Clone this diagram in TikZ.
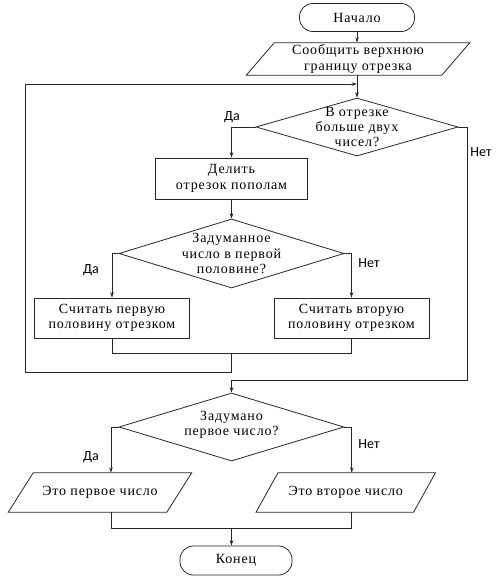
\documentclass[tikz,border=0pt]{standalone}
\usepackage{fontspec}
\setmainfont{Liberation Serif}[LetterSpace=6]
\newfontfamily\lblfont{Carlito}
\usetikzlibrary{shapes.geometric,arrows.meta,calc}
\newcommand\iopar[2]{\draw[shp] ($(#1.north west)+(#2,0)$) -- ($(#1.north east)+(#2,0)$) -- ($(#1.south east)-(#2,0)$) -- ($(#1.south west)-(#2,0)$) -- cycle;}
\begin{document}
\begin{tikzpicture}[x=0.75pt,y=-0.75pt,
  txt/.style={font=\fontsize{10.5}{11.5}\selectfont, align=center, inner sep=0pt},
  shp/.style={draw=black!85, line width=0.6pt},
  box/.style={txt, shp, rectangle},
  term/.style={txt, shp, rectangle, rounded corners=10pt},
  io/.style={txt, rectangle},
  dec/.style={shp, diamond, inner sep=0pt},
  dtext/.style={txt},
  lbl/.style={font=\lblfont\fontsize{10.5}{12}\selectfont, inner sep=0pt},
  conn/.style={draw=black!85, line width=0.6pt},
  arr/.style={conn, -{Stealth[length=4pt,width=2.6pt]}}
]
\useasboundingbox (0,0) rectangle (500,578);

% nodes
\node[term, minimum width=115*0.75pt, minimum height=28*0.75pt] (start) at (357,17.5) {Начало};
\node[io, minimum width=195*0.75pt, minimum height=32*0.75pt] (p1) at (358,59) {Сообщить верхнюю\\границу отрезка};
\iopar{p1}{14}
\node[dec, minimum width=202*0.75pt, minimum height=58*0.75pt,
  label={[dtext]center:{В отрезке\\больше двух\\чисел?}}] (d1) at (357,127) {};
\node[box, minimum width=152*0.75pt, minimum height=41*0.75pt] (b1) at (231.5,178.5) {Делить\\отрезок пополам};
\node[dec, minimum width=225*0.75pt, minimum height=69*0.75pt,
  label={[dtext]center:{Задуманное\\число в первой\\половине?}}] (d2) at (231.5,253.5) {};
\node[box, minimum width=155*0.75pt, minimum height=40*0.75pt] (b2) at (112,318) {Считать первую\\половину отрезком};
\node[box, minimum width=155*0.75pt, minimum height=40*0.75pt] (b3) at (351.5,318) {Считать вторую\\половину отрезком};
\node[dec, minimum width=225*0.75pt, minimum height=68*0.75pt,
  label={[dtext, yshift=1.5pt]center:{Задумано\\первое число?}}] (d3) at (231.5,427) {};
\node[io, minimum width=158*0.75pt, minimum height=39*0.75pt] (p2) at (100,492.5) {Это первое число};
\iopar{p2}{12.5}
\node[io, minimum width=157*0.75pt, minimum height=39*0.75pt] (p3) at (345.75,492.5) {Это второе число};
\iopar{p3}{11}
\node[term, minimum width=112*0.75pt, minimum height=29*0.75pt] (end) at (236,560.5) {Конец};

% labels
\node[lbl] (da1) at (232,117) {Да};
\node[lbl] (net1) at (481,152) {Нет};
\node[lbl] (da2) at (91,270) {Да};
\node[lbl] (net2) at (369,263) {Нет};
\node[lbl] (da3) at (91,457) {Да};
\node[lbl] (net3) at (369,444) {Нет};

% helper coordinates
\coordinate (m1) at (231.5,353);
\coordinate (l1) at (231.5,372);
\coordinate (l2) at (25,372);
\coordinate (l3) at (25,84);
\coordinate (j1) at (357,84);
\coordinate (n1) at (467,380);
\coordinate (n2) at (231.5,380);
\coordinate (m2) at (231.5,528);

% connectors
\draw[arr] (start.south) -- (p1.north -| start.south);
\draw[arr] (p1.south -| d1.north) -- (d1.north);
\draw[arr] (m1) -- (l1) -- (l2) -- (l3) -- (j1);
\draw[arr] (d1.west) -| (b1.north);
\draw[arr] (b1.south) -- (d2.north);
\draw[arr] (d2.west) -| (b2.north);
\draw[arr] (d2.east) -| (b3.north);
\draw[conn] (b2.south) |- (m1);
\draw[conn] (b3.south) |- (m1);
\draw[conn] (d1.east) -| (n1) -- (n2);
\draw[arr] (n2) -- (d3.north);
\draw[arr] (d3.west) -| ($(p2.north)+(11,0)$);
\draw[arr] (d3.east) -| ($(p3.north)+(6,0)$);
\draw[conn] ($(p2.south)+(11,0)$) |- (m2);
\draw[conn] ($(p3.south)+(6,0)$) |- (m2);
\draw[arr] (m2) -- (m2 |- end.north);
\end{tikzpicture}
\end{document}
